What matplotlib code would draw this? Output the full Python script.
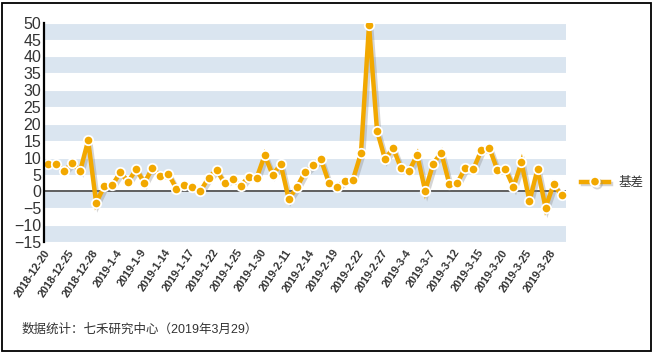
import matplotlib
matplotlib.use('Agg')
from matplotlib import pyplot as plt
from matplotlib import patheffects as pe
from matplotlib.lines import Line2D
import numpy as np

plt.rcParams['font.family'] = ['Liberation Sans', 'Noto Sans CJK SC', 'DejaVu Sans']

dates = ['2018-12-20', '2018-12-21', '2018-12-24', '2018-12-25', '2018-12-26', '2018-12-27',
         '2018-12-28', '2019-1-2', '2019-1-3', '2019-1-4', '2019-1-7', '2019-1-8', '2019-1-9',
         '2019-1-10', '2019-1-11', '2019-1-14', '2019-1-15', '2019-1-16', '2019-1-17',
         '2019-1-18', '2019-1-21', '2019-1-22', '2019-1-23', '2019-1-24', '2019-1-25',
         '2019-1-28', '2019-1-29', '2019-1-30', '2019-1-31', '2019-2-1', '2019-2-11',
         '2019-2-12', '2019-2-13', '2019-2-14', '2019-2-15', '2019-2-18', '2019-2-19',
         '2019-2-20', '2019-2-21', '2019-2-22', '2019-2-25', '2019-2-26', '2019-2-27',
         '2019-2-28', '2019-3-1', '2019-3-4', '2019-3-5', '2019-3-6', '2019-3-7', '2019-3-8',
         '2019-3-11', '2019-3-12', '2019-3-13', '2019-3-14', '2019-3-15', '2019-3-18',
         '2019-3-19', '2019-3-20', '2019-3-21', '2019-3-22', '2019-3-25', '2019-3-26',
         '2019-3-27', '2019-3-28', '2019-3-29']

basis = [8.1, 8.2, 6.0, 8.4, 6.0, 15.1, -3.4, 1.5, 1.8, 5.6, 2.9, 6.6, 2.5,
         6.9, 4.6, 5.2, 0.8, 2.0, 1.4, 0.1, 4.0, 6.4, 2.4, 3.7, 1.5,
         4.4, 4.0, 10.7, 4.9, 8.0, -2.3, 1.2, 5.6, 7.7, 9.5, 2.6, 1.3,
         3.2, 3.5, 11.3, 49.3, 18.0, 9.5, 12.9, 6.8, 6.1, 10.8, 0.2, 8.2,
         11.5, 2.3, 2.5, 7.0, 6.6, 12.2, 12.9, 6.3, 6.6, 1.3, 8.6, -2.9,
         6.6, -4.8, 2.1, -1.2]

orange = '#F2A800'
band = '#DAE5F0'

W, H = 658, 357
fig = plt.figure(figsize=(W / 100, H / 100), dpi=100)
ax = fig.add_axes([44 / W, 1 - 242 / H, (566 - 44) / W, (242 - 22.7) / H])

x = np.arange(len(basis))
ax.set_xlim(-0.5, len(basis) - 0.45)
ax.set_ylim(-15, 50)

for lo in range(-15, 50, 10):
    ax.axhspan(lo, lo + 5, color=band, lw=0, zorder=0)
for yv in range(-15, 51, 5):
    ax.axhline(yv, color='white', lw=0.8, zorder=0.5)
ax.axhline(0, color='#333333', lw=1.1, zorder=1)

shadow = [pe.SimpleLineShadow(offset=(1.6, -1.6), shadow_color='#888888', alpha=0.35),
          pe.Normal()]
ax.plot(x, basis, color=orange, lw=3.2, zorder=3, solid_joinstyle='miter',
        path_effects=shadow)
ax.plot(x, basis, 'o', color=orange, markersize=6.8, markeredgecolor='white',
        markeredgewidth=1.3, zorder=4)

for s in ['top', 'right', 'bottom']:
    ax.spines[s].set_visible(False)
ax.spines['left'].set_color('black')
ax.spines['left'].set_linewidth(1.6)
ax.spines['left'].set_zorder(5)

ax.set_yticks(range(-15, 51, 5))
ax.tick_params(axis='y', length=0, pad=2, labelsize=11.5, labelcolor='#333333')
ax.set_xticks(x[::3])
ax.set_xticklabels(dates[::3], rotation=56, ha='right', va='center',
                   rotation_mode='anchor', fontsize=7.8, fontweight='bold',
                   color='#333333')
ax.tick_params(axis='x', length=0, pad=6)

# legend
leg_line = Line2D([0], [0], color=orange, lw=3.2, marker='o', markersize=6.8,
                  markeredgecolor='white', markeredgewidth=1.3, path_effects=shadow)
fig.legend([leg_line], ['基差'], loc='center left', bbox_to_anchor=(570 / W, 1 - 183 / H),
           frameon=False, handlelength=2.2, handletextpad=0.8, fontsize=9,
           labelcolor='#333333')

fig.text(22 / W, 1 - 330 / H, '数据统计：七禾研究中心（2019年3月29）', fontsize=9,
         color='#333333', va='center', ha='left')

frame = plt.Rectangle((2 / W, 1 - 351 / H), 649 / W, 348 / H, transform=fig.transFigure,
                      fill=False, edgecolor='black', lw=1.3)
fig.patches.append(frame)

fig.savefig('out.png', dpi=100)
